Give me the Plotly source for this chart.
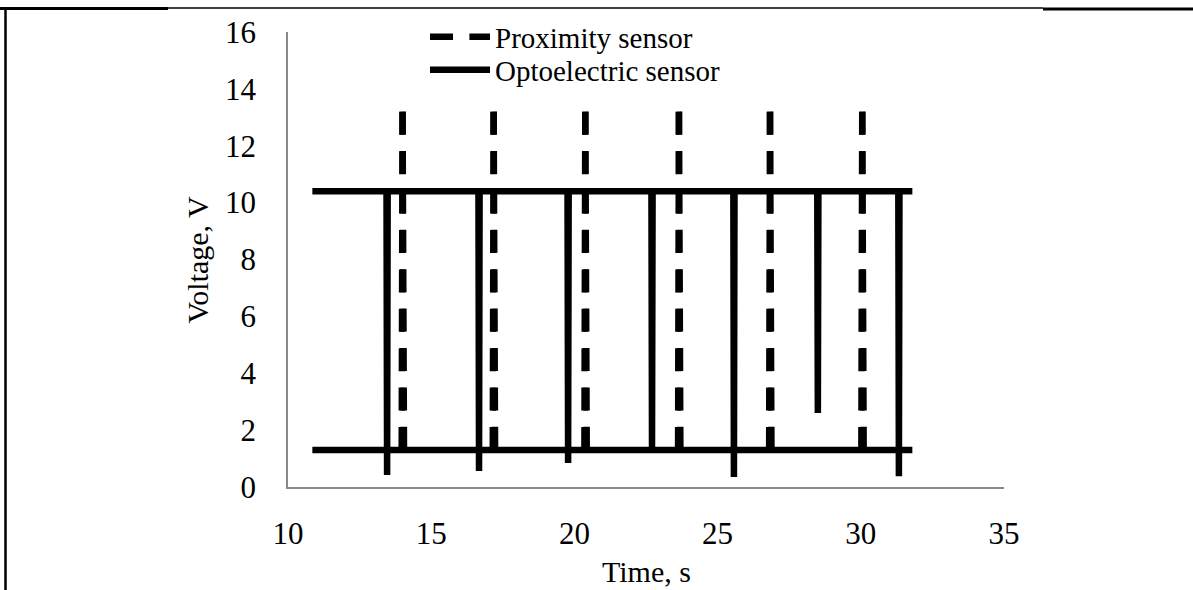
import plotly.graph_objects as go

# ---------------- data ----------------
x_ticks = [10, 15, 20, 25, 30, 35]
y_ticks = [0, 2, 4, 6, 8, 10, 12, 14, 16]

# Proximity sensor: low level with short upward pulses
prox_time = [10.85,
             13.97, 14.00, 14.05,
             17.15, 17.18, 17.23,
             20.35, 20.38, 20.43,
             23.62, 23.65, 23.70,
             26.80, 26.83, 26.88,
             30.02, 30.05, 30.10,
             31.80]
prox_volt = [1.3,
             1.3, 13.2, 1.3,
             1.3, 13.2, 1.3,
             1.3, 13.2, 1.3,
             1.3, 13.2, 1.3,
             1.3, 13.2, 1.3,
             1.3, 13.2, 1.3,
             1.3]

# Optoelectric sensor: high level with short downward pulses
opto_time = [10.85,
             13.44, 13.46, 13.48,
             16.65, 16.67, 16.69,
             19.76, 19.78, 19.80,
             22.69, 22.71, 22.73,
             25.55, 25.57, 25.59,
             28.48, 28.50, 28.52,
             31.31, 31.33, 31.35,
             31.80]
opto_volt = [10.4,
             10.4, 0.42, 10.4,
             10.4, 0.56, 10.4,
             10.4, 0.84, 10.4,
             10.4, 1.35, 10.4,
             10.4, 0.35, 10.4,
             10.4, 2.60, 10.4,
             10.4, 0.38, 10.4,
             10.4]

# ---------------- derived drawing arrays ----------------
PULSE_LEVEL = 5.0
# pulse strokes of the proximity signal (each stroke its own sub-path, dashed)
dash_x, dash_y = [], []
for i, v in enumerate(prox_volt):
    if v > PULSE_LEVEL:
        dash_x += [prox_time[i - 1], prox_time[i], None, prox_time[i], prox_time[i + 1], None]
        dash_y += [prox_volt[i - 1], v, None, v, prox_volt[i + 1], None]
# low level of the proximity signal (dense samples render solid)
base_x = [t for t, v in zip(prox_time, prox_volt) if v <= PULSE_LEVEL]
base_y = [v for v in prox_volt if v <= PULSE_LEVEL]

FONT = "Liberation Serif"
LW = 6.5

fig = go.Figure()
fig.add_trace(go.Scatter(x=base_x, y=base_y, mode="lines", showlegend=False,
                         line=dict(color="black", width=LW), hoverinfo="skip"))
fig.add_trace(go.Scatter(x=dash_x, y=dash_y, mode="lines", name="Proximity sensor",
                         legend="legend",
                         line=dict(color="black", width=LW, dash="23px,16.4px")))
fig.add_trace(go.Scatter(x=opto_time, y=opto_volt, mode="lines", name="Optoelectric sensor",
                         legend="legend2",
                         line=dict(color="black", width=LW)))

axis_common = dict(showgrid=False, zeroline=False, showline=True, linecolor="#898989",
                   linewidth=1.5, ticks="", color="black",
                   tickfont=dict(family=FONT, size=31, color="black"))

legend_common = dict(xref="container", yref="container", xanchor="left", yanchor="middle",
                     bgcolor="rgba(0,0,0,0)", itemwidth=60,
                     font=dict(family=FONT, size=29, color="black"))

fig.update_layout(
    width=1193, height=590,
    margin=dict(l=288, r=189, t=32, b=103, autoexpand=False),
    paper_bgcolor="white", plot_bgcolor="white",
    font=dict(family=FONT, size=30, color="black"),
    xaxis=dict(range=[10, 35], tickvals=x_ticks, ticklabelstandoff=18, **axis_common),
    yaxis=dict(range=[0, 16], tickvals=y_ticks, ticklabelstandoff=24, **axis_common),
    legend=dict(x=425 / 1193, y=1 - 37 / 590, **legend_common),
    legend2=dict(x=425 / 1193, y=1 - 70 / 590, **legend_common),
    annotations=[
        dict(text="Time, s", xref="paper", yref="paper", x=0.5, y=(487 - 571) / 455,
             xanchor="center", yanchor="middle", showarrow=False,
             font=dict(family=FONT, size=30, color="black")),
        dict(text="Voltage, V", xref="paper", yref="paper", x=(197 - 288) / 716, y=0.5,
             xanchor="center", yanchor="middle", showarrow=False, textangle=-90,
             font=dict(family=FONT, size=30, color="black")),
    ],
    shapes=[
        dict(type="line", xref="paper", yref="paper", x0=(0 - 288) / 716, x1=(168 - 288) / 716,
             y0=(487 - 8.5) / 455, y1=(487 - 8.5) / 455, line=dict(color="black", width=3)),
        dict(type="line", xref="paper", yref="paper", x0=(168 - 288) / 716, x1=(1043 - 288) / 716,
             y0=(487 - 8) / 455, y1=(487 - 8) / 455, line=dict(color="black", width=1.5)),
        dict(type="line", xref="paper", yref="paper", x0=(1043 - 288) / 716, x1=(1193 - 288) / 716,
             y0=(487 - 9) / 455, y1=(487 - 9) / 455, line=dict(color="black", width=3)),
        dict(type="line", xref="paper", yref="paper", x0=(5.5 - 288) / 716, x1=(5.5 - 288) / 716,
             y0=(487 - 7) / 455, y1=(487 - 592) / 455, line=dict(color="black", width=2.5)),
    ],
)

fig.write_html("out.html")
